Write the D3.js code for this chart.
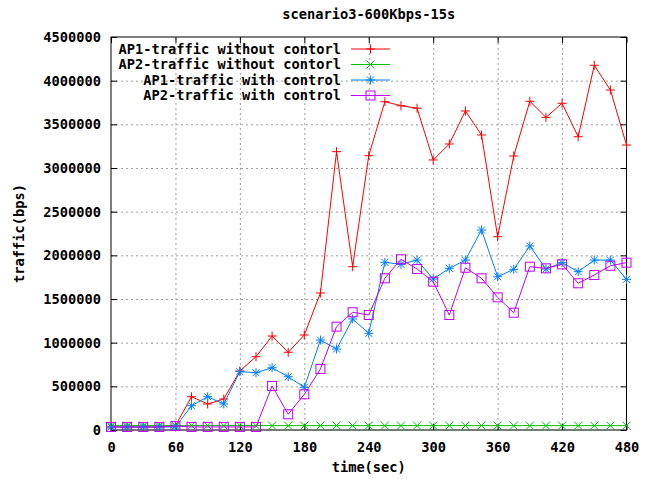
<!DOCTYPE html>
<html>
<head>
<meta charset="utf-8">
<script src="https://cdn.jsdelivr.net/npm/d3@7"></script>
<style>
  body { margin: 0; background: #fff; }
  svg text { font-family: "DejaVu Sans Mono", monospace; font-weight: bold; font-size: 13.7px; fill: #000; }
  .grid line { stroke: #a0a0a0; stroke-dasharray: 2,3; }
  .axis line { stroke: #000; }
  .axis path { display: none; }
</style>
</head>
<body>
<script>
// time points, every 15 s
var times = d3.range(0, 481, 15);

var ap1NoCtrl = [35000, 35000, 35000, 35000, 50000, 381000, 298000, 355000, 676000, 839000,
  1076000, 890000, 1088000, 1569000, 3187000, 1870000, 3141000, 3759000, 3713000, 3684000,
  3092000, 3275000, 3653000, 3378000, 2213000, 3137000, 3764000, 3580000, 3741000, 3358000,
  4176000, 3893000, 3263000];

var ap2NoCtrl = [50000, 50000, 50000, 50000, 50000, 50000, 50000, 50000, 50000, 50000,
  50000, 50000, 50000, 50000, 50000, 50000, 50000, 50000, 50000, 50000,
  50000, 50000, 50000, 50000, 50000, 50000, 50000, 50000, 50000, 50000,
  50000, 50000, 50000];

var ap1Ctrl = [35000, 35000, 35000, 35000, 35000, 278000, 381000, 298000, 668000, 656000,
  713000, 610000, 489000, 1030000, 927000, 1271000, 1107000, 1920000, 1897000, 1946000,
  1729000, 1851000, 1946000, 2290000, 1755000, 1840000, 2107000, 1843000, 1916000, 1813000,
  1946000, 1946000, 1725000];

var ap2Ctrl = [35000, 35000, 35000, 35000, 45000, 35000, 35000, 35000, 35000, 35000,
  504000, 180000, 409000, 698000, 1183000, 1348000, 1317000, 1737000, 1955000, 1843000,
  1698000, 1317000, 1858000, 1737000, 1519000, 1343000, 1870000, 1851000, 1897000, 1680000,
  1775000, 1881000, 1916000];

var seriesNames = ["AP1-traffic without contorl", "AP2-traffic without contorl",
  "AP1-traffic with control", "AP2-traffic with control"];
var seriesColors = ["#ff0000", "#00c000", "#0080ff", "#c000ff"];
var seriesMarks = ["plus", "cross", "star", "square"];
var seriesValues = [ap1NoCtrl, ap2NoCtrl, ap1Ctrl, ap2Ctrl];

var xTicks = d3.range(0, 481, 60);
var yTicks = d3.range(0, 4500001, 500000);

var W = 651, H = 479;
var plotL = 111, plotR = 626.5, plotT = 37, plotB = 430;

var x = d3.scaleLinear().domain([0, 480]).range([plotL, plotR]);
var y = d3.scaleLinear().domain([0, 4500000]).range([plotB, plotT]);

var svg = d3.select("body").append("svg")
  .attr("width", W).attr("height", H);

// grid
svg.append("g").attr("class", "grid")
  .attr("transform", "translate(0," + plotB + ")")
  .call(d3.axisBottom(x).tickValues(xTicks.slice(1, -1)).tickSize(-(plotB - plotT)).tickFormat(""))
  .select(".domain").remove();
svg.append("g").attr("class", "grid")
  .attr("transform", "translate(" + plotL + ",0)")
  .call(d3.axisLeft(y).tickValues(yTicks.slice(1, -1)).tickSize(-(plotR - plotL)).tickFormat(""))
  .select(".domain").remove();

// border
svg.append("rect")
  .attr("x", plotL).attr("y", plotT)
  .attr("width", plotR - plotL).attr("height", plotB - plotT)
  .attr("fill", "none").attr("stroke", "#000").attr("stroke-width", 1);

// zero axis
svg.append("line")
  .attr("x1", plotL).attr("x2", plotR)
  .attr("y1", y(0)).attr("y2", y(0))
  .attr("stroke", "#777").attr("stroke-width", 1.6);

// axes (inward ticks)
svg.append("g").attr("class", "axis")
  .attr("transform", "translate(0," + plotB + ")")
  .call(d3.axisBottom(x).tickValues(xTicks).tickSize(-6).tickPadding(12));
svg.append("g").attr("class", "axis")
  .attr("transform", "translate(0," + plotT + ")")
  .call(d3.axisTop(x).tickValues(xTicks).tickSize(-6).tickFormat(""));
svg.append("g").attr("class", "axis")
  .attr("transform", "translate(" + plotL + ",0)")
  .call(d3.axisLeft(y).tickValues(yTicks).tickSize(-6).tickPadding(10).tickFormat(d3.format("d")));
svg.append("g").attr("class", "axis")
  .attr("transform", "translate(" + plotR + ",0)")
  .call(d3.axisRight(y).tickValues(yTicks).tickSize(-6).tickFormat(""));

svg.selectAll(".axis text").style("font-size", "13.7px");

// titles
svg.append("text")
  .attr("x", (plotL + plotR) / 2).attr("y", 19)
  .attr("text-anchor", "middle")
  .text("scenario3-600Kbps-15s");
svg.append("text")
  .attr("x", (plotL + plotR) / 2).attr("y", 472)
  .attr("text-anchor", "middle")
  .text("time(sec)");
svg.append("text")
  .attr("transform", "translate(24," + ((plotT + plotB) / 2) + ") rotate(-90)")
  .attr("text-anchor", "middle")
  .text("traffic(bps)");

function drawMark(g, type, cx, cy, color) {
  var r = 4.5;
  if (type == "plus" || type == "star") {
    g.append("line").attr("x1", cx - r).attr("x2", cx + r).attr("y1", cy).attr("y2", cy).attr("stroke", color);
    g.append("line").attr("x1", cx).attr("x2", cx).attr("y1", cy - r).attr("y2", cy + r).attr("stroke", color);
  }
  if (type == "cross" || type == "star") {
    var d = type == "star" ? 3.5 : 4;
    g.append("line").attr("x1", cx - d).attr("x2", cx + d).attr("y1", cy - d).attr("y2", cy + d).attr("stroke", color);
    g.append("line").attr("x1", cx - d).attr("x2", cx + d).attr("y1", cy + d).attr("y2", cy - d).attr("stroke", color);
  }
  if (type == "square") {
    g.append("rect").attr("x", cx - 4.5).attr("y", cy - 4.5).attr("width", 9).attr("height", 9)
      .attr("fill", "none").attr("stroke", color);
  }
}

var line = d3.line()
  .x(function (d, i) { return x(times[i]); })
  .y(function (d) { return y(d); });

seriesValues.forEach(function (vals, k) {
  var g = svg.append("g");
  g.append("path")
    .attr("d", line(vals))
    .attr("fill", "none")
    .attr("stroke", seriesColors[k])
    .attr("stroke-width", 1);
  vals.forEach(function (v, i) {
    drawMark(g, seriesMarks[k], x(times[i]), y(v), seriesColors[k]);
  });
});

// legend
var legX = 341, legY = 49, legStep = 15.5;
seriesNames.forEach(function (name, k) {
  var cy = legY + k * legStep;
  svg.append("text")
    .attr("x", legX).attr("y", cy).attr("dy", "0.35em")
    .attr("text-anchor", "end")
    .text(name);
  var g = svg.append("g");
  g.append("line")
    .attr("x1", 351).attr("x2", 390).attr("y1", cy).attr("y2", cy)
    .attr("stroke", seriesColors[k]);
  drawMark(g, seriesMarks[k], 370.5, cy, seriesColors[k]);
});
</script>
</body>
</html>
